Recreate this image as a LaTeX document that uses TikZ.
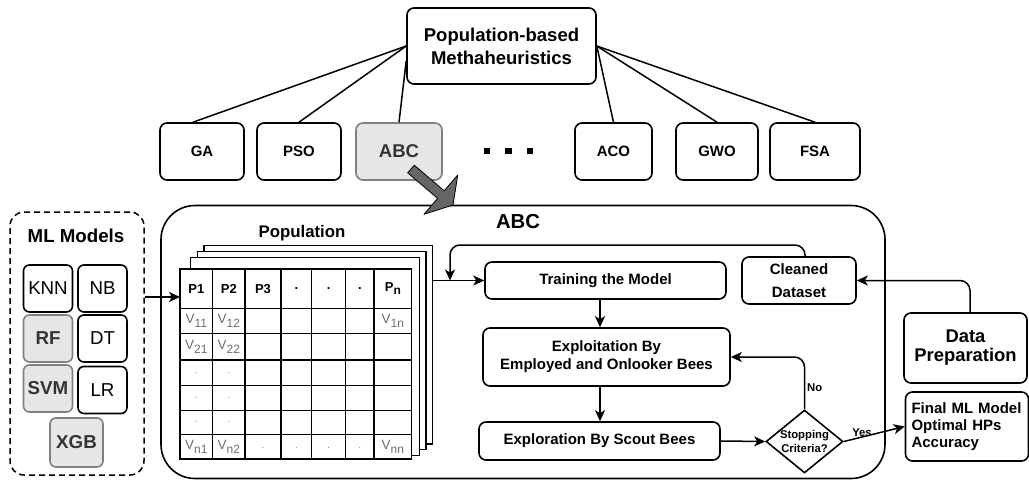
\documentclass[tikz,border=0pt]{standalone}
\usepackage{fontspec}
\setmainfont{Liberation Sans}
\usetikzlibrary{arrows.meta,shapes.geometric,calc}
\definecolor{lgray}{HTML}{E6E6E6}
\definecolor{bgray}{HTML}{808080}
\definecolor{tgray}{HTML}{333333}
\definecolor{vgray}{HTML}{6E6E6E}
\definecolor{agray}{HTML}{666666}
\newcommand\fsz[2]{\fontsize{#1}{#2}\selectfont}
\newcommand\vs[1]{V\raisebox{-3.5pt}{\fsz{12}{12}#1}}
\tikzset{
  box/.style={draw, line width=1.6pt, rounded corners=7pt, align=center, inner sep=0pt, font=\bfseries\fsz{15}{18}},
  gbox/.style={box, fill=lgray, draw=bgray, text=tgray},
  mlb/.style={draw, line width=1.6pt, rounded corners=6pt, font=\fsz{18.7}{22}, inner sep=0pt, minimum width=49pt, minimum height=47pt},
  mlg/.style={mlb, fill=lgray, draw=bgray, text=tgray, font=\bfseries\fsz{18.7}{22}},
  arr/.style={line width=1.5pt, -{Stealth[length=11pt,width=10pt,inset=3pt]}},
  ln/.style={line width=1.5pt},
  cell/.style={font=\fsz{13.5}{15}, text=vgray, inner sep=0pt},
  hcell/.style={font=\bfseries\fsz{13}{15}, inner sep=0pt},
  lbl/.style={font=\bfseries\fsz{11.3}{13.5}, inner sep=0pt, align=center},
}
\begin{document}
\begin{tikzpicture}[x=1pt,y=-1pt]
\useasboundingbox (0,0) rectangle (1029,480);

% ---------- top hierarchy ----------
\node[box, minimum width=189pt, minimum height=76pt, font=\bfseries\fsz{18.5}{23}] (meta) at (501.5,46) {Population-based\\Methaheuristics};
\node[box, minimum width=84pt, minimum height=57pt] (ga) at (202,151.5) {GA};
\node[box, minimum width=84pt, minimum height=57pt] (pso) at (299,151.5) {PSO};
\node[gbox, minimum width=86pt, minimum height=57pt, font=\bfseries\fsz{18.5}{22}] (abc) at (399,151.5) {ABC};
\node[fill=black, minimum size=6.5pt, inner sep=0pt] (dot1) at (487,151) {};
\node[fill=black, minimum size=6.5pt, inner sep=0pt] (dot2) at (508.5,151) {};
\node[fill=black, minimum size=6.5pt, inner sep=0pt] (dot3) at (530,151) {};
\node[box, minimum width=77pt, minimum height=57pt] (aco) at (613.5,151.5) {ACO};
\node[box, minimum width=82pt, minimum height=57pt] (gwo) at (717,151.5) {GWO};
\node[box, minimum width=90pt, minimum height=57pt] (fsa) at (815,151.5) {FSA};

\draw[ln] (meta.west) -- ([xshift=-9pt]ga.north);
\draw[ln] (meta.west) -- (pso.north);
\draw[ln] ([yshift=-15pt]meta.west) -- (abc.north);
\draw[ln] (meta.east) -- (aco.north);
\draw[ln] (meta.east) -- (gwo.north);
\draw[ln] (meta.east) -- (fsa.north);

% ---------- ML models ----------
\node[draw, line width=1.5pt, dash pattern=on 6pt off 4pt, rounded corners=14pt, minimum width=134pt, minimum height=263pt, inner sep=0pt] (mlbox) at (77,343.5) {};
\node[font=\bfseries\fsz{18.7}{22}, inner sep=0pt] (mltitle) at (76,236) {ML Models};
\node[mlb] (knn) at (48,288.5) {KNN};
\node[mlb] (nb) at (102.5,288.5) {NB};
\node[mlg] (rf) at (48,338.5) {RF};
\node[mlb] (dt) at (102.5,338.5) {DT};
\node[mlg] (svm) at (48,388.5) {SVM};
\node[mlb] (lr) at (102.5,390) {LR};
\node[mlg, minimum width=53pt, minimum height=49pt] (xgb) at (76.5,442.5) {XGB};

% ---------- ABC container ----------
\node[draw, line width=1.6pt, rounded corners=34pt, minimum width=724pt, minimum height=273pt, inner sep=0pt] (abcbox) at (523,342) {};
\node[font=\bfseries\fsz{20.3}{24}, inner sep=0pt] (abctitle) at (518,222) {ABC};
\node[font=\bfseries\fsz{16.8}{20}, inner sep=0pt] (poptitle) at (302,233) {Population};

% population stack
\draw[ln, fill=white] (204,245.7) rectangle (432.7,444);
\draw[ln, fill=white] (197.7,251.7) rectangle (426,449.3);
\draw[ln, fill=white] (190.7,257.3) rectangle (419.3,455.7);
\draw[ln, fill=white] (180,269) rectangle (411.7,459);
\foreach \x in {212.7,245,281,311.7,345.7,374} \draw[ln] (\x,269) -- (\x,459);
\foreach \y in {308.3,333.3,360,385.7,410.7,434.3} \draw[ln] (180,\y) -- (411.7,\y);

% header
\node[hcell] (h1) at (196.35,288.65) {P1};
\node[hcell] (h2) at (228.85,288.65) {P2};
\node[hcell] (h3) at (263,288.65) {P3};
\node[hcell] (h4) at (296.35,288.65) {.};
\node[hcell] (h5) at (328.7,288.65) {.};
\node[hcell] (h6) at (359.85,288.65) {.};
\node[hcell] (h7) at (392.85,288.65) {P\raisebox{-3.5pt}{\fsz{12}{12}n}};
% values
\node[cell] (r1c1) at (196.35,320.8) {\vs{11}};
\node[cell] (r1c2) at (228.85,320.8) {\vs{12}};
\node[cell] (r1c7) at (392.85,320.8) {\vs{1n}};
\node[cell] (r2c1) at (196.35,346.65) {\vs{21}};
\node[cell] (r2c2) at (228.85,346.65) {\vs{22}};
\node[cell, font=\fsz{9}{10}] (r3c1) at (196.35,372.85) {.};
\node[cell, font=\fsz{9}{10}] (r3c2) at (228.85,372.85) {.};
\node[cell, font=\fsz{9}{10}] (r4c1) at (196.35,398.2) {.};
\node[cell, font=\fsz{9}{10}] (r4c2) at (228.85,398.2) {.};
\node[cell, font=\fsz{9}{10}] (r5c1) at (196.35,422.5) {.};
\node[cell, font=\fsz{9}{10}] (r5c2) at (228.85,422.5) {.};
\node[cell] (r6c1) at (196.35,446.65) {\vs{n1}};
\node[cell] (r6c2) at (228.85,446.65) {\vs{n2}};
\node[cell, font=\fsz{9}{10}] (r6c3) at (263,448) {.};
\node[cell, font=\fsz{9}{10}] (r6c4) at (296.35,448) {.};
\node[cell, font=\fsz{9}{10}] (r6c5) at (328.7,448) {.};
\node[cell, font=\fsz{9}{10}] (r6c6) at (359.85,448) {.};
\node[cell] (r6c7) at (392.85,446.65) {\vs{nn}};

% ---------- flow ----------
\node[box, minimum width=241pt, minimum height=37pt] (train) at (605.5,280.5) {Training the Model};
\node[box, minimum width=114pt, minimum height=47pt, font=\bfseries\fsz{15}{23}] (clean) at (799,280.5) {Cleaned\\Dataset};
\node[box, minimum width=247pt, minimum height=58pt] (exploit) at (606.5,357) {Exploitation By\\Employed and Onlooker Bees};
\node[box, minimum width=241pt, minimum height=38pt] (explore) at (599.5,441) {Exploration By Scout Bees};
\node[diamond, draw, line width=1.6pt, aspect=1.22, inner sep=-2pt, minimum width=77pt, minimum height=63pt, lbl] (stop) at (804.5,441.5) {Stopping\\Criteria?};
\node[box, minimum width=123pt, minimum height=70pt, font=\bfseries\fsz{18.4}{19}] (prep) at (965.5,348) {Data\\Preparation};
\node[box, minimum width=123pt, minimum height=69pt, align=left, text width=111pt, font=\bfseries\fsz{15}{16.7}] (final) at (967,426.5) {Final ML Model\\Optimal HPs\\Accuracy};

\coordinate (tin) at (180,297);
\coordinate (sout) at (432.7,280.5);
\coordinate (loopin) at (450,280.5);
\coordinate (looptop) at (805,245);

\draw[arr] (tin -| mlbox.east) -- (tin);
\draw[ln] (sout) -- (train.west);
\draw[arr] (loopin) -- (train.west);
\draw[arr, rounded corners=10pt] (clean.north -| looptop) -- (looptop) -| (loopin);
\draw[arr] (train.south -| 600,0) -- (exploit.north -| 600,0);
\draw[arr] (exploit.south -| 600,0) -- (explore.north -| 600,0);
\draw[arr] (explore.east) -- (stop.west);
\draw[arr, rounded corners=10pt] (stop.north) |- (exploit.east);
\node[lbl, anchor=west] (nolbl) at (807,388) {No};
\draw[arr] (stop.east) -- (final.west);
\node[lbl] (yeslbl) at (862,433) {Yes};
\draw[arr, rounded corners=10pt] ([xshift=4.5pt]prep.north) |- (clean.east);

% big selection arrow
\draw[line width=0.8pt, fill=agray, line join=round] (407.7,172.8) -- (414.3,165.2) -- (444.2,190.8) -- (457.8,174.9) -- (453,205) -- (424,214.3) -- (437.6,198.4) -- cycle;
\end{tikzpicture}
\end{document}
